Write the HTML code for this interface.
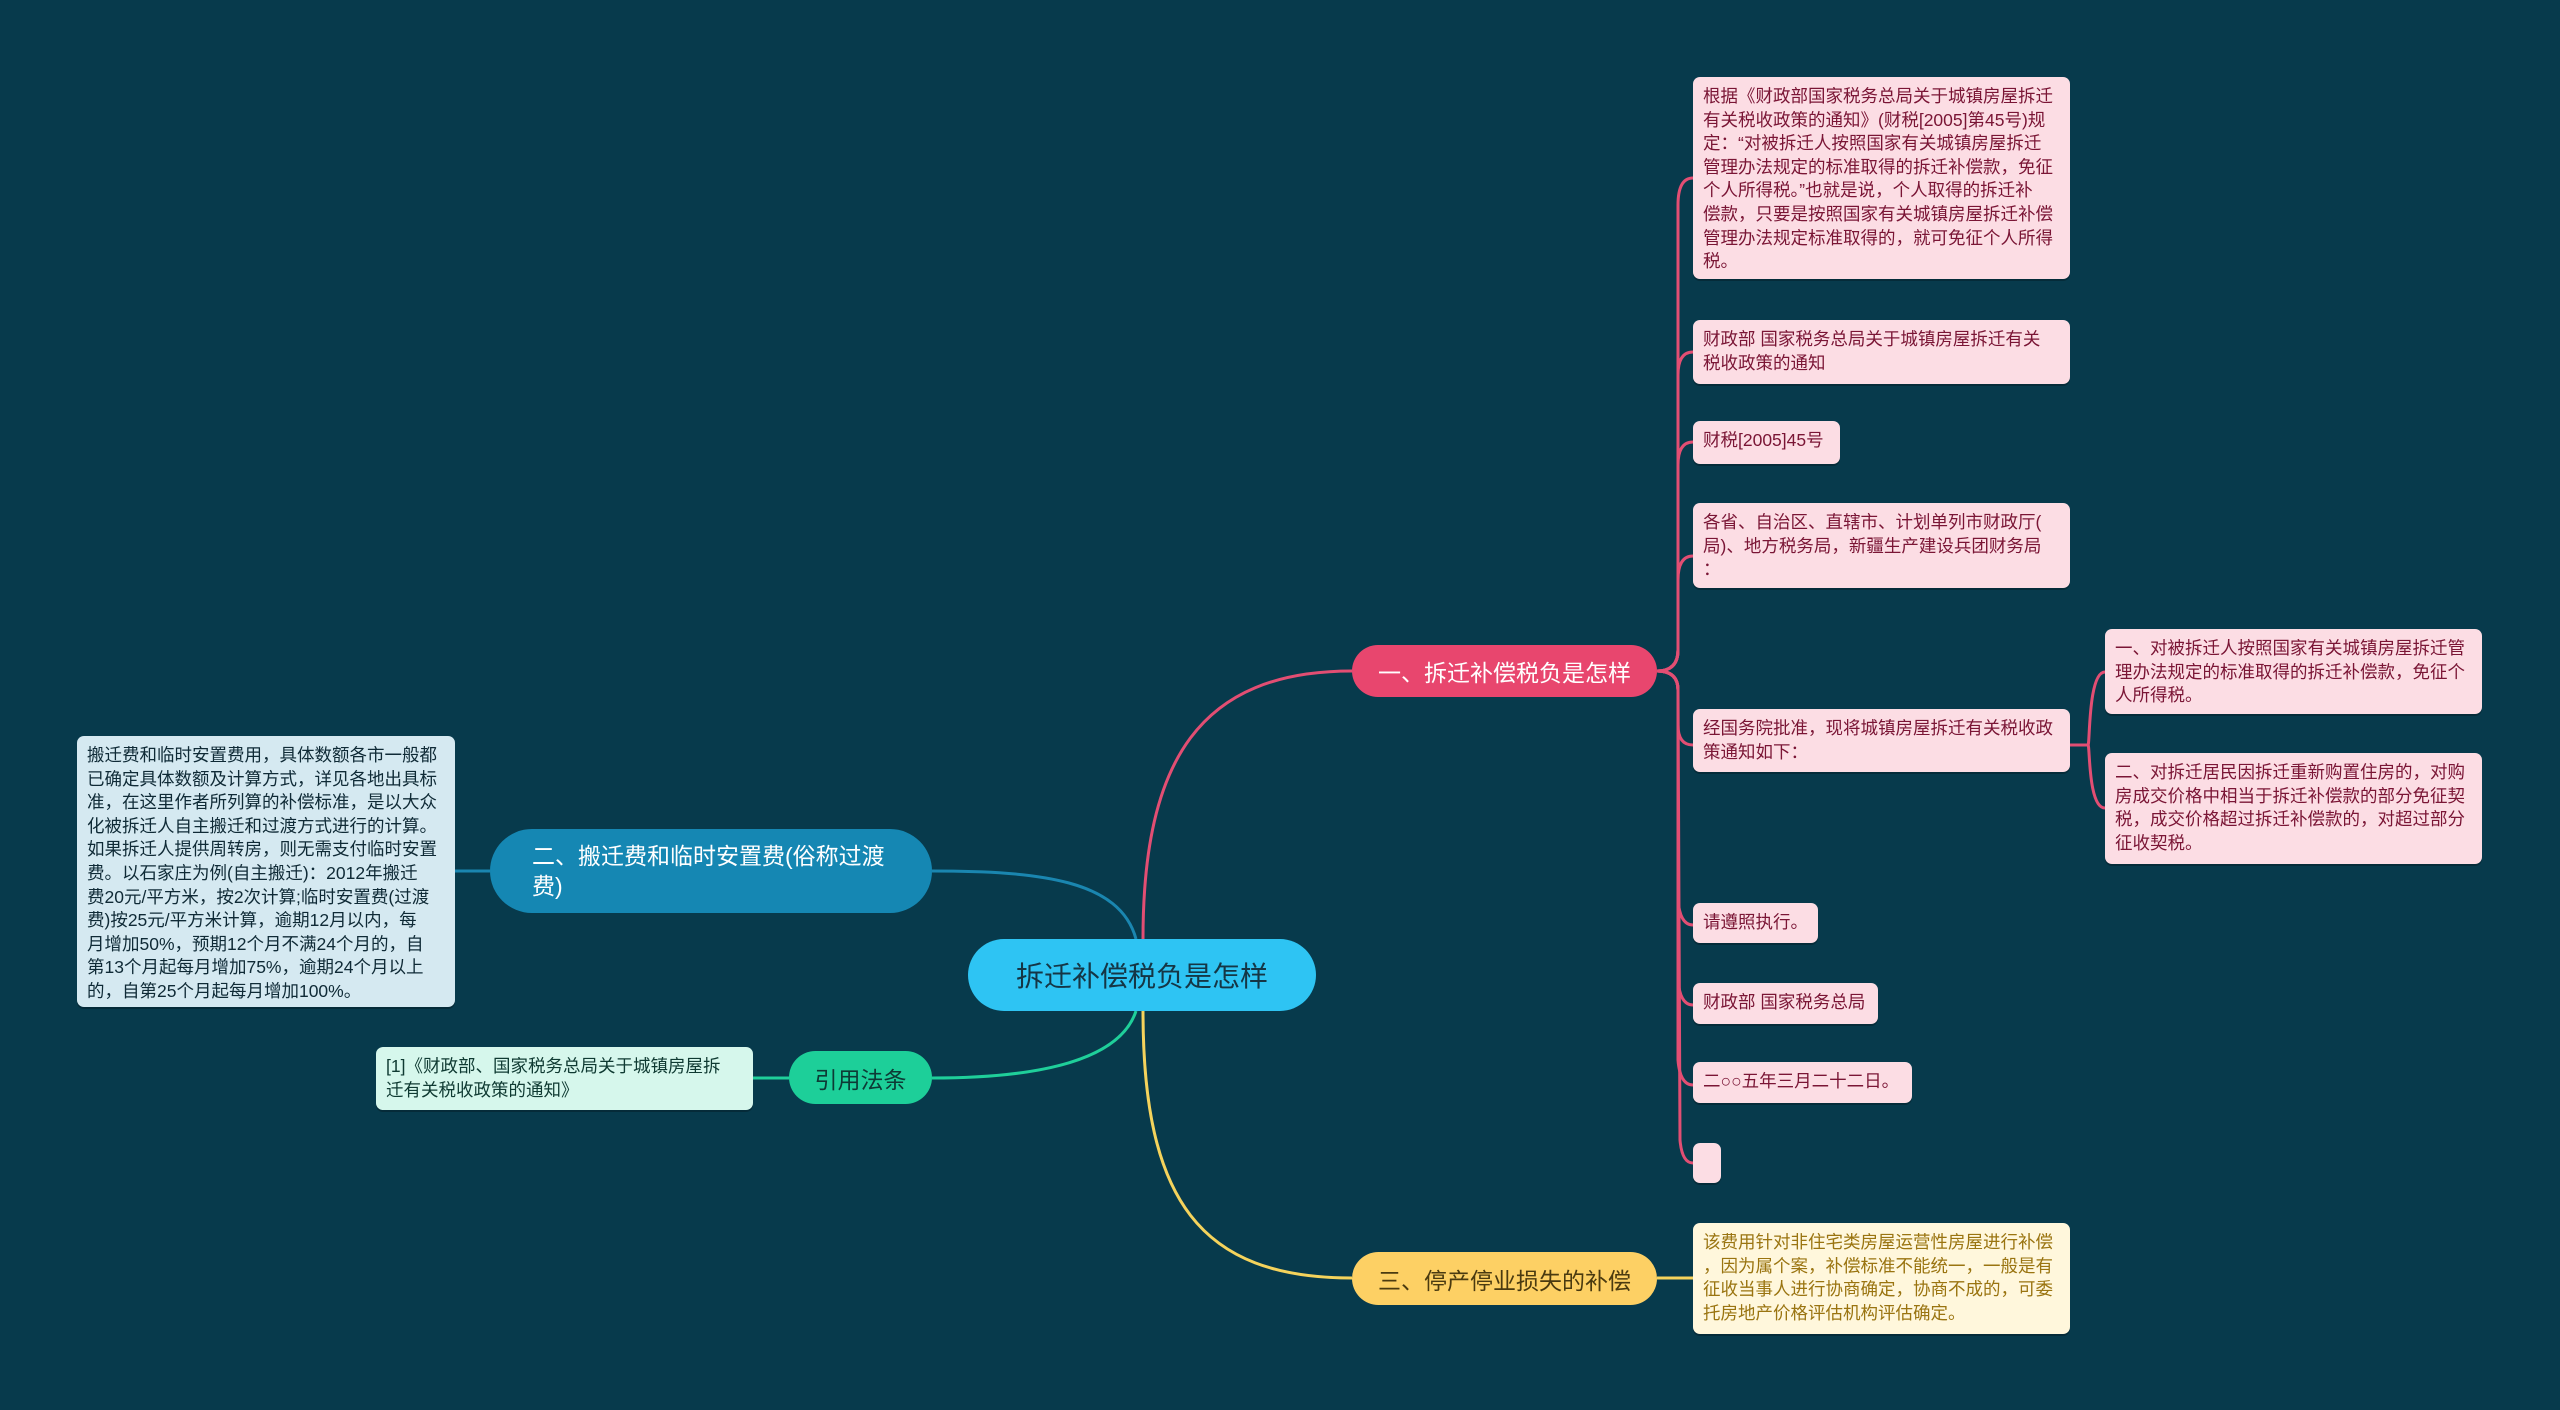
<!DOCTYPE html>
<html><head><meta charset="utf-8"><style>
body{margin:0;width:2560px;height:1410px;background:#073a4c;overflow:hidden;position:relative;font-family:"Liberation Sans","Noto Sans CJK SC",sans-serif}
.n{position:absolute;box-sizing:border-box;white-space:nowrap}
.leaf{font-size:17.5px;line-height:23.6px;padding:8px 10px;border-radius:7px;color:#7a1535;background:#fcdde4;box-shadow:0 2px 0 rgba(0,0,0,.25)}
.br{border-radius:30px;color:#fff;font-size:23px;display:flex;align-items:center;justify-content:center}
</style></head><body>
<svg width="2560" height="1410" style="position:absolute;left:0;top:0" fill="none" stroke-width="3">
<path d="M1143 939 C1143 760 1200 671 1352 671" stroke="#e24e73"/>
<path d="M1136 939 C1120 880 1040 871 932 871" stroke="#1a86b0"/>
<path d="M1136 1011 C1120 1060 1040 1078 932 1078" stroke="#1fcf9a"/>
<path d="M1143 1011 C1143 1200 1200 1278 1352 1278" stroke="#f5d35c"/>
<path d="M490 871 L455 871" stroke="#1a86b0"/>
<path d="M789 1078 L753 1078" stroke="#1fcf9a"/>
<path d="M1657 1278 L1693 1278" stroke="#f5d35c"/>
<g stroke="#e24e73" stroke-width="3">
<path d="M1657 671 Q1678 671 1678 650 L1678 205 Q1678 178 1693 178"/>
<path d="M1657 671 Q1678 671 1678 650 L1678 375 Q1678 352 1693 352"/>
<path d="M1657 671 Q1678 671 1678 650 L1678 465 Q1678 442 1693 442"/>
<path d="M1657 671 Q1678 671 1678 650 L1678 580 Q1678 556 1693 556"/>
<path d="M1657 671 Q1678 671 1678 690 L1678 725 Q1678 745 1693 745"/>
<path d="M1657 671 Q1678 671 1678 690 L1678 900 Q1680 925 1693 925"/>
<path d="M1657 671 Q1678 671 1678 690 L1678 980 Q1680 1005 1693 1005"/>
<path d="M1657 671 Q1678 671 1678 690 L1678 1060 Q1680 1085 1693 1085"/>
<path d="M1657 671 Q1678 671 1678 690 L1680 1140 Q1682 1163 1693 1163"/>
<path d="M2070 745 L2088 745 C2090 745 2088 672 2105 672"/>
<path d="M2070 745 L2088 745 C2090 745 2088 808 2105 808"/>
</g>
</svg>

<div class="n br" style="left:968px;top:939px;width:348px;height:72px;background:#2ec4f3;color:#153645;font-size:28px;border-radius:36px">拆迁补偿税负是怎样</div>
<div class="n br" style="left:1352px;top:645px;width:305px;height:52px;background:#e8466e">一、拆迁补偿税负是怎样</div>
<div class="n br" style="left:490px;top:829px;width:442px;height:84px;background:#1587b3;border-radius:42px;justify-content:flex-start;padding-left:42px;white-space:normal;line-height:30px">二、搬迁费和临时安置费(俗称过渡<br>费)</div>
<div class="n br" style="left:789px;top:1051px;width:143px;height:53px;background:#1dcf99;color:#0d3a35">引用法条</div>
<div class="n br" style="left:1352px;top:1252px;width:305px;height:53px;background:#fdd064;color:#4a3a10">三、停产停业损失的补偿</div>

<div class="n leaf" style="left:1693px;top:77px;width:377px;height:202px">根据《财政部国家税务总局关于城镇房屋拆迁<br>有关税收政策的通知》(财税[2005]第45号)规<br>定：“对被拆迁人按照国家有关城镇房屋拆迁<br>管理办法规定的标准取得的拆迁补偿款，免征<br>个人所得税。”也就是说，个人取得的拆迁补<br>偿款，只要是按照国家有关城镇房屋拆迁补偿<br>管理办法规定标准取得的，就可免征个人所得<br>税。</div>
<div class="n leaf" style="left:1693px;top:320px;width:377px;height:64px">财政部 国家税务总局关于城镇房屋拆迁有关<br>税收政策的通知</div>
<div class="n leaf" style="left:1693px;top:421px;width:147px;height:43px">财税[2005]45号</div>
<div class="n leaf" style="left:1693px;top:503px;width:377px;height:85px">各省、自治区、直辖市、计划单列市财政厅(<br>局)、地方税务局，新疆生产建设兵团财务局<br>：</div>
<div class="n leaf" style="left:1693px;top:709px;width:377px;height:63px">经国务院批准，现将城镇房屋拆迁有关税收政<br>策通知如下：</div>
<div class="n leaf" style="left:2105px;top:629px;width:377px;height:85px">一、对被拆迁人按照国家有关城镇房屋拆迁管<br>理办法规定的标准取得的拆迁补偿款，免征个<br>人所得税。</div>
<div class="n leaf" style="left:2105px;top:753px;width:377px;height:111px">二、对拆迁居民因拆迁重新购置住房的，对购<br>房成交价格中相当于拆迁补偿款的部分免征契<br>税，成交价格超过拆迁补偿款的，对超过部分<br>征收契税。</div>
<div class="n leaf" style="left:1693px;top:903px;width:125px;height:40px">请遵照执行。</div>
<div class="n leaf" style="left:1693px;top:983px;width:185px;height:41px">财政部 国家税务总局</div>
<div class="n leaf" style="left:1693px;top:1062px;width:219px;height:41px">二○○五年三月二十二日。</div>
<div class="n leaf" style="left:1693px;top:1143px;width:28px;height:40px"></div>
<div class="n leaf" style="left:1693px;top:1223px;width:377px;height:111px;background:#fff7dc;color:#9a7410">该费用针对非住宅类房屋运营性房屋进行补偿<br>，因为属个案，补偿标准不能统一，一般是有<br>征收当事人进行协商确定，协商不成的，可委<br>托房地产价格评估机构评估确定。</div>
<div class="n leaf" style="left:77px;top:736px;width:378px;height:271px;background:#d5e9f1;color:#0f2a36">搬迁费和临时安置费用，具体数额各市一般都<br>已确定具体数额及计算方式，详见各地出具标<br>准，在这里作者所列算的补偿标准，是以大众<br>化被拆迁人自主搬迁和过渡方式进行的计算。<br>如果拆迁人提供周转房，则无需支付临时安置<br>费。以石家庄为例(自主搬迁)：2012年搬迁<br>费20元/平方米，按2次计算;临时安置费(过渡<br>费)按25元/平方米计算，逾期12月以内，每<br>月增加50%，预期12个月不满24个月的，自<br>第13个月起每月增加75%，逾期24个月以上<br>的，自第25个月起每月增加100%。</div>
<div class="n leaf" style="left:376px;top:1047px;width:377px;height:63px;background:#d6f7ec;color:#0f3a32">[1]《财政部、国家税务总局关于城镇房屋拆<br>迁有关税收政策的通知》</div>
</body></html>
